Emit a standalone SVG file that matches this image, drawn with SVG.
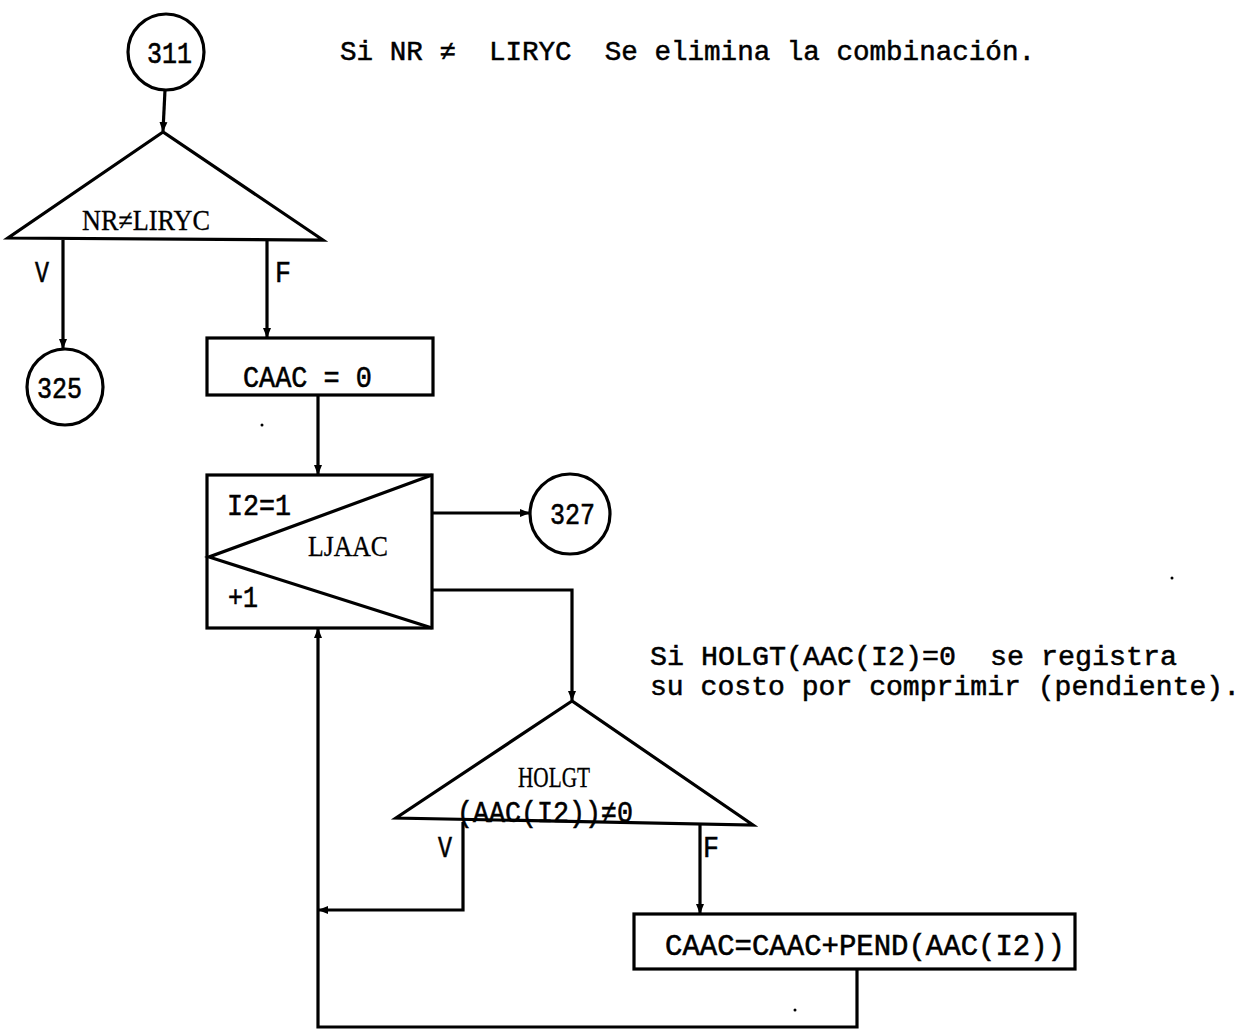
<svg xmlns="http://www.w3.org/2000/svg" width="1248" height="1035" viewBox="0 0 1248 1035">
<style>
.s{fill:none;stroke:#000;stroke-width:3.2;stroke-linejoin:miter}
.t{font-family:"Liberation Mono","DejaVu Sans Mono",monospace;font-size:30px;fill:#000;stroke:#000;stroke-width:0.6}
.m{font-family:"Liberation Mono","DejaVu Sans Mono",monospace;font-size:27px;fill:#000;stroke:#000;stroke-width:0.5;white-space:pre}
.n{font-family:"Liberation Serif","DejaVu Serif",serif;font-size:29px;fill:#000;stroke:#000;stroke-width:0.3}
</style>
<defs>
<marker id="a" markerWidth="10" markerHeight="10" refX="9" refY="5" orient="auto" markerUnits="userSpaceOnUse">
<path d="M0,1 L10,5 L0,9 Z" fill="#000"/>
</marker>
</defs>
<rect width="1248" height="1035" fill="#fff"/>
<g id="note1"><text class="m" x="340" y="60" textLength="695" lengthAdjust="spacingAndGlyphs" xml:space="preserve">Si NR ≠  LIRYC  Se elimina la combinación.</text></g>
<g id="note2">
<text class="m" x="650" y="665" textLength="527" lengthAdjust="spacingAndGlyphs" xml:space="preserve">Si HOLGT(AAC(I2)=0  se registra</text>
<text class="m" x="650" y="695" textLength="590" lengthAdjust="spacingAndGlyphs">su costo por comprimir (pendiente).</text>
</g>
<g id="n311"><circle class="s" cx="166" cy="52" r="38"/><text class="t" x="147" y="63" textLength="45" lengthAdjust="spacingAndGlyphs">311</text></g>
<g id="d1"><path class="s" d="M163,132 L8,238 L323,240 Z"/><text class="n" x="82" y="230" textLength="128" lengthAdjust="spacingAndGlyphs">NR≠LIRYC</text>
<text class="t" x="35" y="282" textLength="14" lengthAdjust="spacingAndGlyphs">V</text><text class="t" x="275" y="282" textLength="16" lengthAdjust="spacingAndGlyphs">F</text></g>
<g id="n325"><circle class="s" cx="65" cy="387" r="38"/><text class="t" x="37" y="398" textLength="45" lengthAdjust="spacingAndGlyphs">325</text></g>
<g id="b1"><rect class="s" x="207" y="338" width="226" height="57"/><text class="t" x="243" y="387" textLength="129" lengthAdjust="spacingAndGlyphs">CAAC = 0</text></g>
<g id="loop"><rect class="s" x="207" y="475" width="225" height="153"/><path class="s" d="M432,475 L209,557 L432,628"/>
<text class="t" x="227" y="515" textLength="64" lengthAdjust="spacingAndGlyphs">I2=1</text>
<text class="n" x="308" y="556" textLength="80" lengthAdjust="spacingAndGlyphs">LJAAC</text>
<text class="t" x="228" y="607" textLength="30" lengthAdjust="spacingAndGlyphs">+1</text></g>
<g id="n327"><circle class="s" cx="570" cy="514" r="40"/><text class="t" x="550" y="524" textLength="45" lengthAdjust="spacingAndGlyphs">327</text></g>
<g id="d2"><path class="s" d="M572,701 L396,818 L753,825 Z"/>
<text class="n" x="518" y="787" textLength="72" lengthAdjust="spacingAndGlyphs">HOLGT</text>
<text class="t" x="457" y="822" textLength="176" lengthAdjust="spacingAndGlyphs">(AAC(I2))≠0</text>
<text class="t" x="438" y="857" textLength="14" lengthAdjust="spacingAndGlyphs">V</text><text class="t" x="703" y="857" textLength="16" lengthAdjust="spacingAndGlyphs">F</text></g>
<g id="b2"><rect class="s" x="634" y="914" width="441" height="55"/><text class="t" x="665" y="955" textLength="400" lengthAdjust="spacingAndGlyphs">CAAC=CAAC+PEND(AAC(I2))</text></g>
<g id="connectors">
<path class="s" d="M165,90 L163,131" marker-end="url(#a)"/>
<path class="s" d="M63,240 L63,348" marker-end="url(#a)"/>
<path class="s" d="M267,240 L267,337" marker-end="url(#a)"/>
<path class="s" d="M318,395 L318,474" marker-end="url(#a)"/>
<path class="s" d="M432,513 L529,513" marker-end="url(#a)"/>
<path class="s" d="M432,590 L572,590 L572,700" marker-end="url(#a)"/>
<path class="s" d="M463,822 L463,910 L319,910" marker-end="url(#a)"/>
<path class="s" d="M700,825 L700,913" marker-end="url(#a)"/>
<path class="s" d="M857,969 L857,1027 L318,1027 L318,629" marker-end="url(#a)"/>
</g>
<g id="specks"><circle cx="262" cy="425" r="1.5"/><circle cx="1172" cy="578" r="1.5"/><circle cx="795" cy="1010" r="1.5"/></g>
</svg>
